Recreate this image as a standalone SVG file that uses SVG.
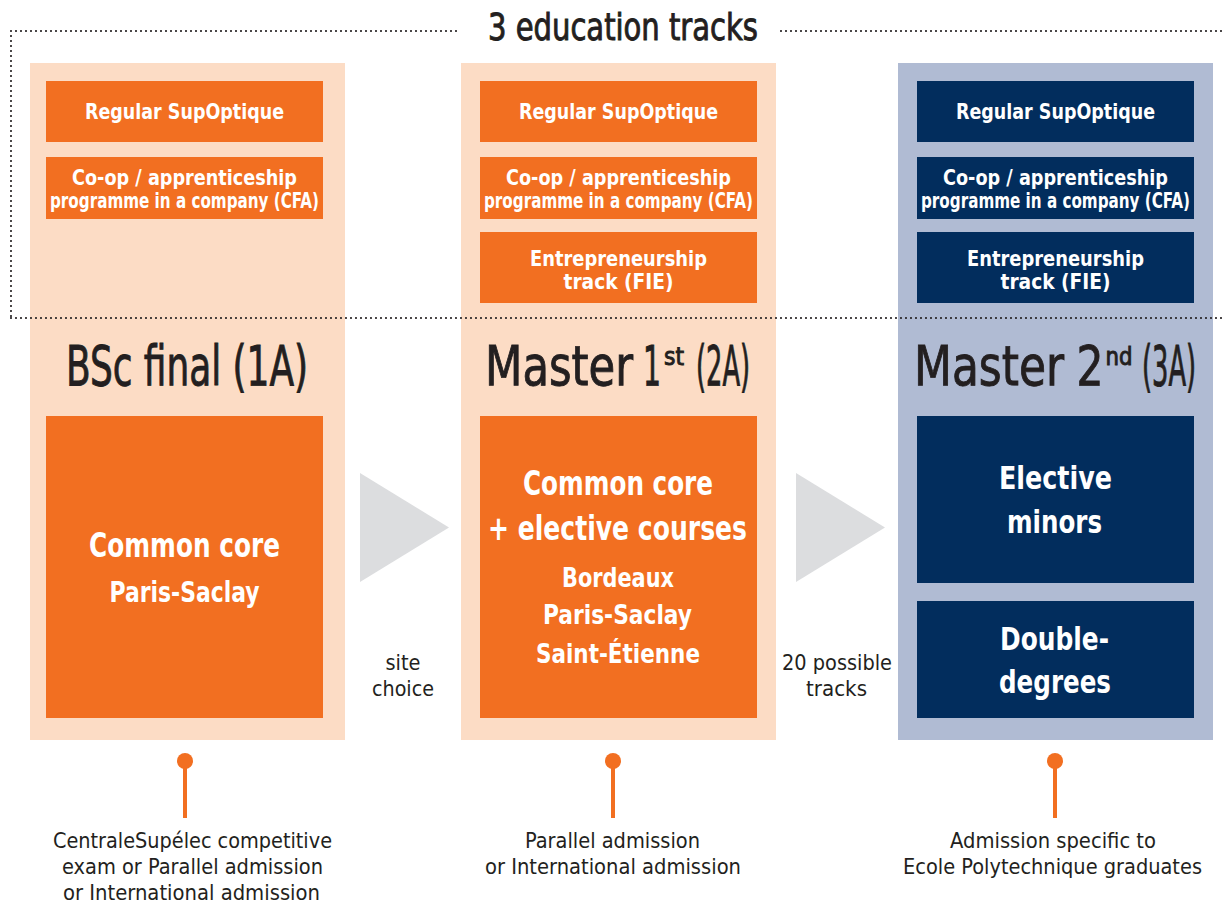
<svg xmlns="http://www.w3.org/2000/svg" width="1225" height="904" viewBox="0 0 1225 904">
<style>
text{font-family:"Liberation Sans Narrow","DejaVu Sans Condensed","Liberation Sans",sans-serif;text-anchor:middle}
.dk{fill:#231f20}
.med{stroke:#231f20;stroke-width:0.9}
.wb{fill:#ffffff;font-weight:bold}
.peach{fill:#fcdcc5}
.blu{fill:#b0bbd3}
.or{fill:#f26f21}
.nv{fill:#022d5d}
.dot{stroke:#231f20;stroke-width:2.2;stroke-dasharray:0 5;stroke-linecap:round;fill:none}
.tri{fill:#dcdddf}
.pin{stroke:#f26f21;stroke-width:4}
.t1{font-size:56px}
.sup{font-size:25px}
.sm{font-size:22px}
.bx{font-size:21px}
</style>
<rect width="1225" height="904" fill="#ffffff"/>
<g id="col1">
<rect class="peach" x="30" y="63" width="315" height="677"/>
<text class="dk med t1" x="187" y="385" textLength="242" lengthAdjust="spacingAndGlyphs">BSc final (1A)</text>
</g>
<g id="col2">
<rect class="peach" x="461" y="63" width="315" height="677"/>
<text class="dk med t1" x="559" y="385" textLength="148" lengthAdjust="spacingAndGlyphs">Master</text>
<text class="dk med t1" x="652" y="385" textLength="18" lengthAdjust="spacingAndGlyphs">1</text>
<text class="dk med sup" x="674" y="365" textLength="20" lengthAdjust="spacingAndGlyphs">st</text>
<text class="dk med t1" x="723" y="385" textLength="54" lengthAdjust="spacingAndGlyphs">(2A)</text>
</g>
<g id="col3">
<rect class="blu" x="898" y="63" width="315" height="677"/>
<text class="dk med t1" x="989" y="385" textLength="150" lengthAdjust="spacingAndGlyphs">Master</text>
<text class="dk med t1" x="1090" y="385" textLength="27" lengthAdjust="spacingAndGlyphs">2</text>
<text class="dk med sup" x="1119" y="365" textLength="27" lengthAdjust="spacingAndGlyphs">nd</text>
<text class="dk med t1" x="1169" y="385" textLength="54" lengthAdjust="spacingAndGlyphs">(3A)</text>
</g>
<g id="title">
<text class="dk med" x="623" y="40" font-size="38" textLength="270" lengthAdjust="spacingAndGlyphs">3 education tracks</text>
</g>
<g id="c1-regular"><rect class="or" x="46" y="81" width="277" height="61"/><text class="wb bx" x="184.5" y="119" textLength="199" lengthAdjust="spacingAndGlyphs">Regular SupOptique</text></g>
<g id="c1-coop"><rect class="or" x="46" y="157" width="277" height="62"/><text class="wb bx" x="184.5" y="185" textLength="225" lengthAdjust="spacingAndGlyphs">Co-op / apprenticeship</text><text class="wb bx" x="184.5" y="208" textLength="269" lengthAdjust="spacingAndGlyphs">programme in a company (CFA)</text></g>
<g id="c2-regular"><rect class="or" x="480" y="81" width="277" height="61"/><text class="wb bx" x="618.5" y="119" textLength="199" lengthAdjust="spacingAndGlyphs">Regular SupOptique</text></g>
<g id="c2-coop"><rect class="or" x="480" y="157" width="277" height="62"/><text class="wb bx" x="618.5" y="185" textLength="225" lengthAdjust="spacingAndGlyphs">Co-op / apprenticeship</text><text class="wb bx" x="618.5" y="208" textLength="269" lengthAdjust="spacingAndGlyphs">programme in a company (CFA)</text></g>
<g id="c2-fie"><rect class="or" x="480" y="232" width="277" height="71"/><text class="wb bx" x="618.5" y="266" textLength="177" lengthAdjust="spacingAndGlyphs">Entrepreneurship</text><text class="wb bx" x="618.5" y="289" textLength="110" lengthAdjust="spacingAndGlyphs">track (FIE)</text></g>
<g id="c3-regular"><rect class="nv" x="917" y="81" width="277" height="61"/><text class="wb bx" x="1055.5" y="119" textLength="199" lengthAdjust="spacingAndGlyphs">Regular SupOptique</text></g>
<g id="c3-coop"><rect class="nv" x="917" y="157" width="277" height="62"/><text class="wb bx" x="1055.5" y="185" textLength="225" lengthAdjust="spacingAndGlyphs">Co-op / apprenticeship</text><text class="wb bx" x="1055.5" y="208" textLength="269" lengthAdjust="spacingAndGlyphs">programme in a company (CFA)</text></g>
<g id="c3-fie"><rect class="nv" x="917" y="232" width="277" height="71"/><text class="wb bx" x="1055.5" y="266" textLength="177" lengthAdjust="spacingAndGlyphs">Entrepreneurship</text><text class="wb bx" x="1055.5" y="289" textLength="110" lengthAdjust="spacingAndGlyphs">track (FIE)</text></g>
<g id="c1-core"><rect class="or" x="46" y="416" width="277" height="302"/><text class="wb" font-size="33" x="184.5" y="557" textLength="191" lengthAdjust="spacingAndGlyphs">Common core</text><text class="wb" font-size="28" x="184.5" y="602" textLength="150" lengthAdjust="spacingAndGlyphs">Paris-Saclay</text></g>
<g id="c2-core"><rect class="or" x="480" y="416" width="277" height="302"/><text class="wb" font-size="33" x="618" y="495" textLength="190" lengthAdjust="spacingAndGlyphs">Common core</text><text class="wb" font-size="33" x="617.5" y="540" textLength="259" lengthAdjust="spacingAndGlyphs">+ elective courses</text><text class="wb" font-size="27" x="618" y="587" textLength="112" lengthAdjust="spacingAndGlyphs">Bordeaux</text><text class="wb" font-size="27" x="617.5" y="624" textLength="149" lengthAdjust="spacingAndGlyphs">Paris-Saclay</text><text class="wb" font-size="27" x="618" y="663" textLength="164" lengthAdjust="spacingAndGlyphs">Saint-Étienne</text></g>
<g id="c3-minors"><rect class="nv" x="917" y="416" width="277" height="167"/><text class="wb" font-size="32" x="1055.5" y="489" textLength="113" lengthAdjust="spacingAndGlyphs">Elective</text><text class="wb" font-size="32" x="1054.5" y="533" textLength="95" lengthAdjust="spacingAndGlyphs">minors</text></g>
<g id="c3-double"><rect class="nv" x="917" y="601" width="277" height="117"/><text class="wb" font-size="32" x="1054.5" y="650" textLength="109" lengthAdjust="spacingAndGlyphs">Double-</text><text class="wb" font-size="32" x="1055" y="693" textLength="112" lengthAdjust="spacingAndGlyphs">degrees</text></g>
<g id="frame">
<path class="dot" d="M11 31H460M781 31H1225M11 31V318M11 318H1225"/>
</g>
<g id="connectors">
<polygon class="tri" points="360,473 449,527.5 360,582"/>
<polygon class="tri" points="796,473 885,527.5 796,582"/>
<line class="pin" x1="185" y1="761" x2="185" y2="818"/><circle class="or" cx="185" cy="761" r="8"/>
<line class="pin" x1="613" y1="761" x2="613" y2="818"/><circle class="or" cx="613" cy="761" r="8"/>
<line class="pin" x1="1055" y1="761" x2="1055" y2="818"/><circle class="or" cx="1055" cy="761" r="8"/>
</g>
<g id="labels">
<text class="dk sm" x="403" y="670" textLength="35" lengthAdjust="spacingAndGlyphs">site</text>
<text class="dk sm" x="403" y="696" textLength="62" lengthAdjust="spacingAndGlyphs">choice</text>
<text class="dk sm" x="837" y="670" textLength="110" lengthAdjust="spacingAndGlyphs">20 possible</text>
<text class="dk sm" x="836.5" y="696" textLength="61" lengthAdjust="spacingAndGlyphs">tracks</text>
</g>
<g id="adm1">
<text class="dk sm" x="192.5" y="848" textLength="279" lengthAdjust="spacingAndGlyphs">CentraleSupélec competitive</text>
<text class="dk sm" x="192.5" y="874" textLength="261" lengthAdjust="spacingAndGlyphs">exam or Parallel admission</text>
<text class="dk sm" x="191.5" y="900" textLength="257" lengthAdjust="spacingAndGlyphs">or International admission</text>
</g>
<g id="adm2">
<text class="dk sm" x="612.5" y="848" textLength="175" lengthAdjust="spacingAndGlyphs">Parallel admission</text>
<text class="dk sm" x="613" y="874" textLength="256" lengthAdjust="spacingAndGlyphs">or International admission</text>
</g>
<g id="adm3">
<text class="dk sm" x="1053" y="848" textLength="206" lengthAdjust="spacingAndGlyphs">Admission specific to</text>
<text class="dk sm" x="1052.5" y="874" textLength="299" lengthAdjust="spacingAndGlyphs">Ecole Polytechnique graduates</text>
</g>
</svg>
